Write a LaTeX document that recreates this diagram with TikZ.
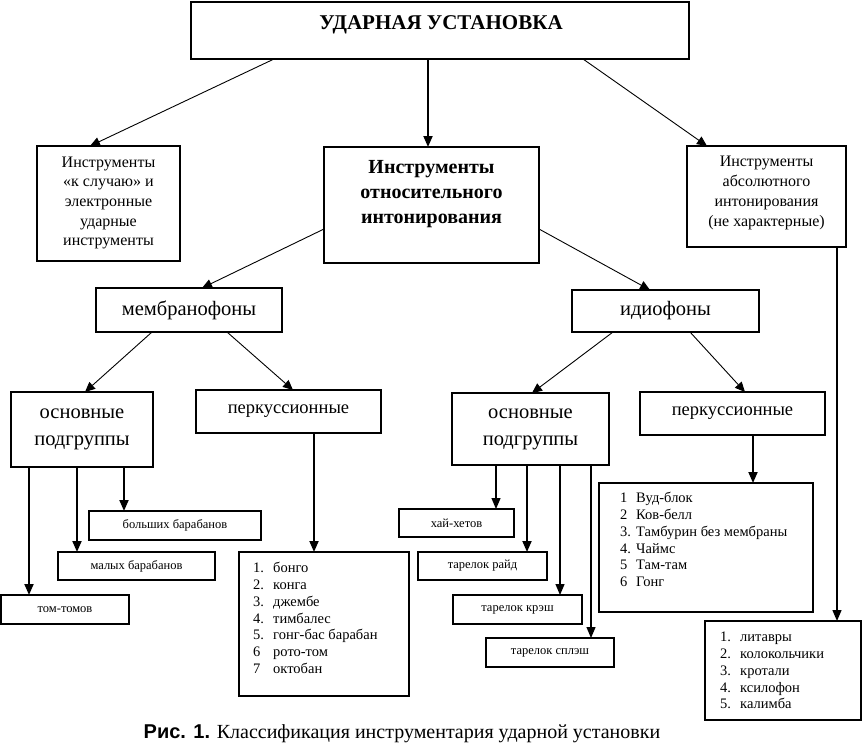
\documentclass[tikz,border=0pt]{standalone}
\usepackage{fontspec}
\setmainfont{Liberation Serif}
\newfontfamily\capsans{Liberation Sans}
\usetikzlibrary{arrows.meta}
\begin{document}
\begin{tikzpicture}[x=1pt,y=-1pt,
  bx/.style 2 args={draw, line width=1.4pt, minimum width=#1, minimum height=#2, anchor=north west, inner sep=0pt, outer sep=0pt, align=center},
  thickbx/.style={line width=2.4pt},
  arr/.style={-{Triangle[width=9pt,length=10pt]}, line width=0.9pt},
  varr/.style={-{Triangle[width=9pt,length=11pt]}, line width=1.8pt},
  midfont/.style={font=\fontsize{16}{19.7}\selectfont},
  bigfont/.style={font=\fontsize{20.5}{27}\selectfont},
  perkfont/.style={font=\fontsize{18.5}{22}\selectfont},
  smallfont/.style={font=\fontsize{12.5}{14}\selectfont},
  listfont/.style={font=\fontsize{14.5}{16.7}\selectfont, anchor=north west, inner sep=0pt}]
\useasboundingbox (0,0) rectangle (862,748);
% top level
\node[bx={498pt}{57pt}] (top) at (191,2) {};
\node[font=\fontsize{21}{24}\selectfont\bfseries] (topt) at (441,25) {УДАРНАЯ УСТАНОВКА};
\node[bx={143pt}{115pt}] (ks) at (37,146) {};
\node[midfont, align=center] (kst) at (108.5,203) {Инструменты\\«к случаю» и\\электронные\\ударные\\инструменты};
\node[bx={215pt}{116pt}] (rel) at (324,147) {};
\node[font=\fontsize{20}{25}\selectfont\bfseries, align=center] (relt) at (431.5,194) {Инструменты\\относительного\\интонирования};
\node[bx={159pt}{101pt}] (ri) at (687,146) {};
\node[midfont, align=center] (rit) at (766.5,193) {Инструменты\\абсолютного\\интонирования\\(не характерные)};
% second level
\node[bx={186pt}{44pt}, font=\fontsize{20.5}{24}\selectfont] (mem) at (96,288) {мембранофоны};
\node[bx={187pt}{42pt}, font=\fontsize{20.5}{24}\selectfont] (idio) at (572,290) {идиофоны};
% third level
\node[bx={142pt}{75pt}, bigfont] (osnL) at (11,392) {основные\\подгруппы};
\node[bx={185pt}{43pt}, perkfont] (perkL) at (196,390) {перкуссионные};
\node[bx={157pt}{72pt}, bigfont] (osnR) at (452,393) {основные\\подгруппы};
\node[bx={185pt}{43pt}, perkfont] (perkR) at (640,392) {перкуссионные};
% leaves left
\node[bx={172pt}{29pt}, smallfont] (bolsh) at (89,511) {больших барабанов};
\node[bx={157pt}{28pt}, smallfont] (maly) at (58,552) {малых барабанов};
\node[bx={128pt}{29pt}, smallfont, thickbx] (tom) at (1,595) {том-томов};
\node[bx={170pt}{144pt}] (listL) at (239,552) {};
\node[listfont] (listLt) at (253,561) {\begin{tabular}{@{}p{20pt}@{}l@{}}1.&бонго\\2.&конга\\3.&джембе\\4.&тимбалес\\5.&гонг-бас барабан\\6&рото-том\\7&октобан\end{tabular}};
% leaves right
\node[bx={115pt}{28pt}, smallfont, thickbx] (hai) at (399,509) {хай-хетов};
\node[bx={129pt}{28pt}, smallfont] (raid) at (418,552) {тарелок райд};
\node[bx={129pt}{29pt}, smallfont, thickbx] (krash) at (453,595) {тарелок крэш};
\node[bx={128pt}{29pt}, smallfont] (splash) at (486,638) {тарелок сплэш};
\node[bx={214pt}{129pt}] (listR) at (599,483) {};
\node[listfont] (listRt) at (620,491) {\begin{tabular}{@{}p{16pt}@{}l@{}}1&Вуд-блок\\2&Ков-белл\\3.&Тамбурин без мембраны\\4.&Чаймс\\5&Там-там\\6&Гонг\end{tabular}};
\node[bx={156pt}{99pt}] (abs) at (705,621) {};
\node[listfont] (abst) at (720,630) {\begin{tabular}{@{}p{20pt}@{}l@{}}1.&литавры\\2.&колокольчики\\3.&кротали\\4.&ксилофон\\5.&калимба\end{tabular}};
% caption
\node[font=\fontsize{20}{24}\selectfont] (cap) at (402,734) {{\capsans\bfseries Рис. 1.} Классификация инструментария ударной установки};
% connectors
\draw[arr] ([xshift=83pt]top.south west) -- ([xshift=53pt]ks.north west);
\draw[varr] ([xshift=237pt]top.south west) -- ([xshift=104pt]rel.north west);
\draw[arr] ([xshift=392pt]top.south west) -- ([xshift=20pt]ri.north west);
\draw[arr] ([yshift=-24pt]rel.west) -- ([xshift=106pt]mem.north west);
\draw[arr] ([yshift=-24pt]rel.east) -- ([xshift=78pt]idio.north west);
\draw[arr] ([xshift=56pt]mem.south west) -- ([xshift=74pt]osnL.north west);
\draw[arr] ([xshift=131pt]mem.south west) -- ([xshift=97pt]perkL.north west);
\draw[arr] ([xshift=41pt]idio.south west) -- ([xshift=80pt]osnR.north west);
\draw[arr] ([xshift=118pt]idio.south west) -- ([xshift=105pt]perkR.north west);
\coordinate (r1) at ([xshift=150pt]ri.south west);
\draw[varr, line width=1.4pt] (r1) -- (r1 |- abs.north);
\coordinate (a1) at ([xshift=18pt]osnL.south west);
\coordinate (a2) at ([xshift=66pt]osnL.south west);
\coordinate (a3) at ([xshift=113pt]osnL.south west);
\draw[varr] (a1) -- (a1 |- tom.north);
\draw[varr] (a2) -- (a2 |- maly.north);
\draw[varr] (a3) -- (a3 |- bolsh.north);
\coordinate (b1) at ([xshift=118pt]perkL.south west);
\draw[varr] (b1) -- (b1 |- listL.north);
\coordinate (c1) at ([xshift=44pt]osnR.south west);
\coordinate (c2) at ([xshift=75pt]osnR.south west);
\coordinate (c3) at ([xshift=108pt]osnR.south west);
\coordinate (c4) at ([xshift=139pt]osnR.south west);
\draw[varr, line width=1.2pt] (c1) -- (c1 |- hai.north);
\draw[varr] (c2) -- (c2 |- raid.north);
\draw[varr, line width=1.2pt] (c3) -- (c3 |- krash.north);
\draw[varr, line width=1.2pt] (c4) -- (c4 |- splash.north);
\coordinate (d1) at ([xshift=113pt]perkR.south west);
\draw[varr] (d1) -- (d1 |- listR.north);
\end{tikzpicture}
\end{document}
